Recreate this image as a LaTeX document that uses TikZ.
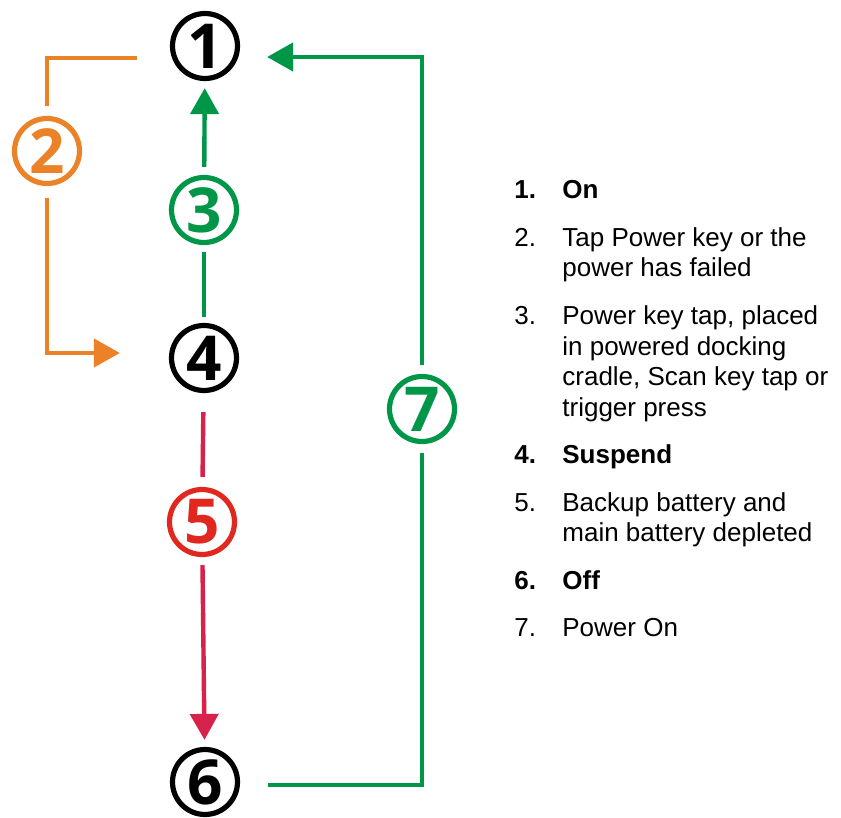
\documentclass[tikz,border=0pt]{standalone}
\usepackage{fontspec}
\setmainfont{Liberation Sans}
\newfontfamily\circfont{Open Sans}
\usetikzlibrary{arrows.meta}
\definecolor{stgreen}{RGB}{0,150,72}
\definecolor{storange}{RGB}{235,130,40}
\definecolor{stred}{RGB}{225,40,30}
\definecolor{stcrimson}{RGB}{215,35,75}

\begin{document}
\begin{tikzpicture}[x={(0.5pt,0)}, y={(0,-0.5pt)},
  state/.style={circle, draw, line width=2.6pt, minimum size=32.5pt, inner sep=0pt,
    font=\circfont\bfseries\fontsize{31pt}{31pt}\selectfont},
  link/.style={line width=2.2pt},
  tip/.style={-{Triangle[length=13pt,width=14pt]}},
  itemno/.style={anchor=base west, inner sep=0pt, font=\fontsize{13pt}{15.25pt}\selectfont},
  itembold/.style={itemno, font=\fontsize{13pt}{15.25pt}\selectfont\bfseries},
  itemtext/.style={itemno, align=left}]

\useasboundingbox (0,0) rectangle (841,818);

% States
\node[state] (s1) at (205,46) {1};
\node[state, draw=storange, text=storange] (s2) at (47,151) {2};
\node[state, draw=stgreen, text=stgreen] (s3) at (204,210) {3};
\node[state] (s4) at (204,358) {4};
\node[state, draw=stred, text=stred] (s5) at (202,522) {5};
\node[state] (s6) at (205,782) {6};
\node[state, draw=stgreen, text=stgreen] (s7) at (422,409) {7};

% Transitions
\draw[link, storange, shorten <=16.5pt, shorten >=5pt] ([yshift=-6pt]s1.west) -| (s2.north);
\draw[link, storange, tip, shorten <=6pt, shorten >=24.5pt] (s2.south) |- ([yshift=2.5pt]s4.west);
\draw[link, stgreen, tip, shorten <=4pt, shorten >=3.5pt] (s3) -- (s1);
\draw[link, stgreen, shorten <=3.5pt, shorten >=3pt] (s3) -- (s4);
\draw[link, stcrimson, shorten <=9.5pt, shorten >=5pt] (s4) -- (s5);
\draw[link, stcrimson, tip, shorten <=4pt, shorten >=3.5pt] (s5) -- (s6);
\draw[link, stgreen, shorten <=14pt, shorten >=4.5pt] ([yshift=-1.5pt]s6.east) -| (s7.south);
\draw[link, stgreen, tip, shorten <=4.5pt, shorten >=13.5pt] (s7.north) |- ([yshift=-5.5pt]s1.east);

% Legend (multi-line texts sit on their last baseline)
\node[itembold] (n1) at (514,199) {1.};
\node[itembold] (t1) at (562,199) {On};
\node[itemno] (n2) at (514,246.5) {2.};
\node[itemtext] (t2) at (562,277) {Tap Power key or the\\power has failed};
\node[itemno] (n3) at (514,324.5) {3.};
\node[itemtext] (t3) at (562,416) {Power key tap, placed\\in powered docking\\cradle, Scan key tap or\\trigger press};
\node[itembold] (n4) at (514,463.5) {4.};
\node[itembold] (t4) at (562,463.5) {Suspend};
\node[itemno] (n5) at (514,511) {5.};
\node[itemtext] (t5) at (562,541.5) {Backup battery and\\main battery depleted};
\node[itembold] (n6) at (514,589) {6.};
\node[itembold] (t6) at (562,589) {Off};
\node[itemno] (n7) at (514,636.5) {7.};
\node[itemtext] (t7) at (562,636.5) {Power On};

\end{tikzpicture}
\end{document}
